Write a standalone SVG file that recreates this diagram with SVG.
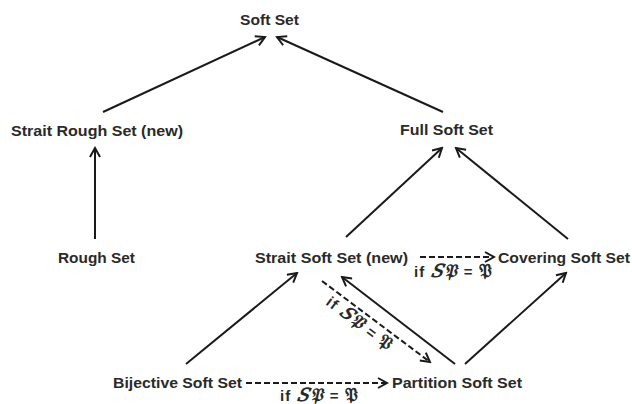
<svg xmlns="http://www.w3.org/2000/svg" width="632" height="404" viewBox="0 0 632 404">
<style>
.lbl{font-family:"Liberation Sans",Arial,sans-serif;font-weight:bold;font-size:15px;fill:#2a2a2a}
.cond{font-family:"Liberation Sans","DejaVu Serif",serif;font-weight:bold;font-size:15px;fill:#2a2a2a}
.m{font-family:"DejaVu Serif","Liberation Serif",serif;font-weight:bold;font-size:18px}
.e{stroke:#1a1a1a;stroke-width:2;fill:none;marker-end:url(#ah)}
.d{stroke:#1a1a1a;stroke-width:2;fill:none;stroke-dasharray:6,3;marker-end:url(#ah)}
</style>
<defs>
<marker id="ah" viewBox="0 0 12 12" refX="10" refY="6" markerWidth="12" markerHeight="12" markerUnits="userSpaceOnUse" orient="auto">
<path d="M1,1 L10,6 L1,11" fill="none" stroke="#1a1a1a" stroke-width="2"/>
</marker>
</defs>
<rect width="632" height="404" fill="#ffffff"/>
<g id="connectors">
<line class="e" x1="103" y1="112" x2="265" y2="37"/>
<line class="e" x1="443" y1="112" x2="277" y2="37"/>
<line class="e" x1="95" y1="239" x2="95" y2="148"/>
<line class="e" x1="346" y1="237" x2="442" y2="148"/>
<line class="e" x1="568" y1="239" x2="456" y2="148"/>
<line class="e" x1="186" y1="364" x2="297" y2="273"/>
<line class="e" x1="465" y1="364" x2="566" y2="273"/>
<line class="e" x1="455" y1="364" x2="342" y2="277"/>
<line class="d" x1="322" y1="281" x2="430" y2="362"/>
<line class="d" x1="420" y1="257" x2="494" y2="257"/>
<line class="d" x1="246" y1="383" x2="387" y2="383"/>
<text class="cond" x="414" y="277" textLength="78" lengthAdjust="spacing">if <tspan class="m" font-style="italic">𝑆𝔓</tspan> = <tspan class="m">𝔓</tspan></text>
<text class="cond" x="280" y="401" textLength="78" lengthAdjust="spacing">if <tspan class="m" font-style="italic">𝑆𝔓</tspan> = <tspan class="m">𝔓</tspan></text>
<text class="cond" transform="translate(325,304) rotate(37)" textLength="78" lengthAdjust="spacing">if <tspan class="m" font-style="italic">𝑆𝔓</tspan> = <tspan class="m">𝔓</tspan></text>
</g>
<g id="n-softset"><text class="lbl" x="240" y="25" textLength="59" lengthAdjust="spacingAndGlyphs">Soft Set</text></g>
<g id="n-straitrough"><text class="lbl" x="11" y="136" textLength="172" lengthAdjust="spacingAndGlyphs">Strait Rough Set (new)</text></g>
<g id="n-fullsoft"><text class="lbl" x="400" y="135" textLength="93" lengthAdjust="spacingAndGlyphs">Full Soft Set</text></g>
<g id="n-rough"><text class="lbl" x="58" y="263" textLength="77" lengthAdjust="spacingAndGlyphs">Rough Set</text></g>
<g id="n-straitsoft"><text class="lbl" x="255" y="263" textLength="153" lengthAdjust="spacingAndGlyphs">Strait Soft Set (new)</text></g>
<g id="n-covering"><text class="lbl" x="498" y="263" textLength="132" lengthAdjust="spacingAndGlyphs">Covering Soft Set</text></g>
<g id="n-bijective"><text class="lbl" x="113" y="388" textLength="129" lengthAdjust="spacingAndGlyphs">Bijective Soft Set</text></g>
<g id="n-partition"><text class="lbl" x="392" y="388" textLength="130" lengthAdjust="spacingAndGlyphs">Partition Soft Set</text></g>
</svg>
